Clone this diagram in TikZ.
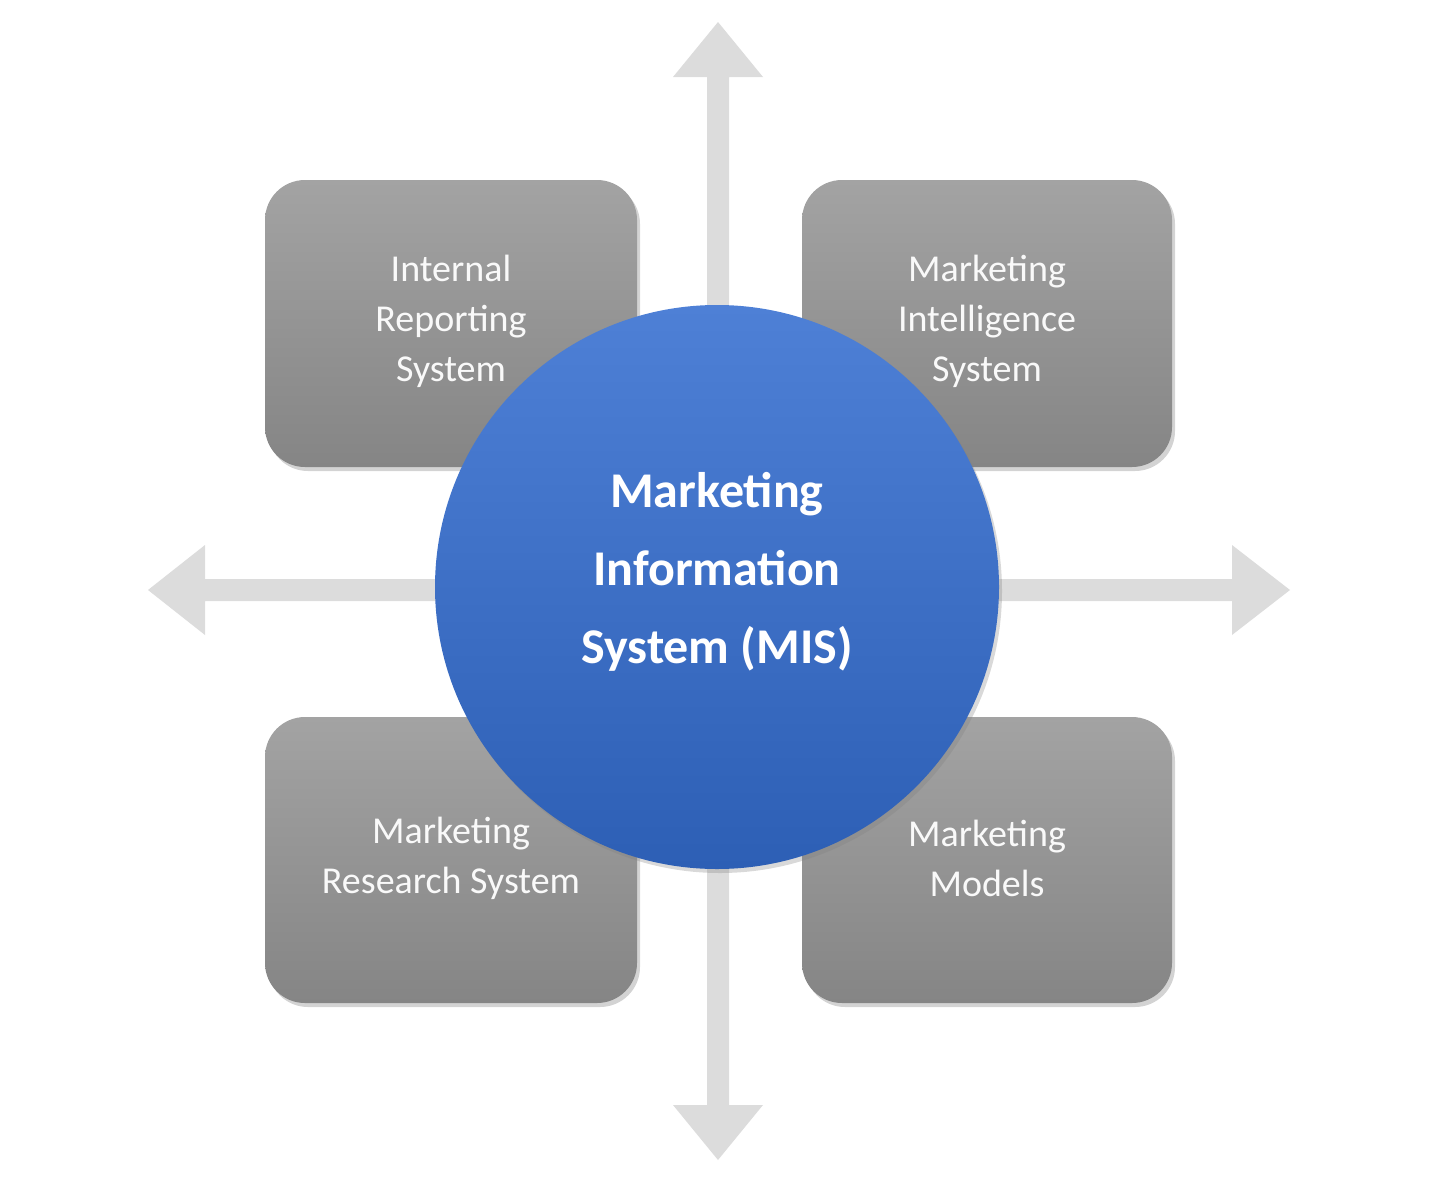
\documentclass[tikz,border=0pt]{standalone}
\usepackage{fontspec}
\setmainfont{Carlito}
\usetikzlibrary{shadows}
\definecolor{arr}{HTML}{DCDCDC}
\definecolor{btop}{HTML}{A3A3A3}
\definecolor{bbot}{HTML}{858585}
\definecolor{ctop}{HTML}{4E80D6}
\definecolor{cbot}{HTML}{2D5FB5}
\tikzset{
  gbox/.style={rounded corners=20pt, top color=btop, bottom color=bbot, draw=none,
    drop shadow={shadow xshift=1.5pt, shadow yshift=-2pt, opacity=0.35}},
  btext/.style={text=white!95!gray, font=\fontsize{19}{25}\selectfont, align=center},
  arrshape/.style={fill=arr, draw=none}
}
\begin{document}
\begin{tikzpicture}[x=0.5pt,y=-0.5pt]
\useasboundingbox (0,0) rectangle (1440,1183);
% vertical double arrow
\fill[arrshape] (718,22) -- (763,77) -- (729,77) -- (729,1105) -- (763,1105) -- (718,1160) -- (673,1105) -- (707,1105) -- (707,77) -- (673,77) -- cycle;
% horizontal double arrow
\fill[arrshape] (148,590) -- (205,545) -- (205,579) -- (1232,579) -- (1232,545) -- (1290,590) -- (1232,635) -- (1232,601) -- (205,601) -- (205,635) -- cycle;
% boxes
\path[gbox] (265,180) rectangle (637,467);
\path[gbox] (802,180) rectangle (1172,467);
\path[gbox] (265,717) rectangle (637,1003);
\path[gbox] (802,717) rectangle (1172,1003);
\node[btext] (irs) at (451,321) {Internal\\Reporting\\System};
\node[btext] (mis2) at (987,321) {Marketing\\Intelligence\\System};
\node[btext] (mrs) at (451,858) {Marketing\\Research System};
\node[btext] (mm) at (987,858) {Marketing\\Models};
% circle
\node[circle, minimum size=282pt, inner sep=0pt, top color=ctop, bottom color=cbot,
  drop shadow={shadow xshift=1.5pt, shadow yshift=-2pt, opacity=0.3}] (c) at (717,587) {};
\node[text=white, font=\bfseries\fontsize{25}{39}\selectfont, align=center] (ct) at (717,572) {Marketing\\Information\\System (MIS)};
\end{tikzpicture}
\end{document}
